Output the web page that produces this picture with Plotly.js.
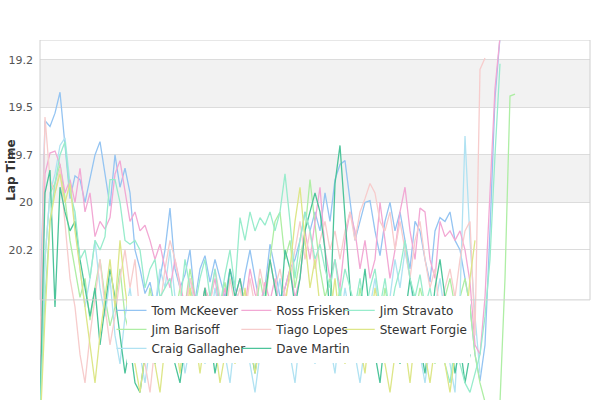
<!DOCTYPE html>
<html>
<head>
<meta charset="utf-8">
<script src="https://cdn.plot.ly/plotly-3.0.1.min.js"></script>
<style>
  html, body { margin: 0; padding: 0; background: #fff; }
  #chart { width: 600px; height: 400px; }
</style>
</head>
<body>
<div id="chart"></div>
<script>
// Lap times per driver (one value per lap)
var tomMcKeever = [20.60, 19.57, 19.60, 19.53, 19.42, 19.70, 19.98, 19.86, 19.88, 20.00,
  19.88, 19.75, 19.68, 19.84, 20.02, 19.75, 19.92, 19.82, 19.95, 20.25,
  20.35, 20.48, 20.42, 20.55, 20.40, 20.25, 20.03, 20.35, 20.45, 20.38,
  20.25, 20.52, 20.35, 20.28, 20.42, 20.30, 20.40, 20.50, 20.35, 20.45,
  20.55, 20.38, 20.25, 20.40, 20.55, 20.45, 20.22, 20.35, 20.50, 20.45,
  20.35, 20.30, 20.20, 20.05, 20.15, 20.05, 20.15, 19.95, 20.10, 19.88,
  19.80, 19.78, 19.98, 20.20, 20.10, 20.00, 19.99, 20.15, 20.28, 20.10,
  20.00, 20.15, 20.05, 20.20, 20.35, 20.10, 20.15, 20.30, 20.42, 20.15,
  20.08, 20.10, 20.05, 20.20, 20.25, 20.40, 20.55, 20.80, 20.94, 20.75,
  20.15, 19.45, 19.13];
var rossFrisken = [20.90, 19.85, 19.74, 19.73, 19.80, 19.95, 19.88, 20.00, 19.82, 20.05,
  19.95, 20.18, 20.10, 20.14, 20.08, 19.85, 19.78, 19.95, 20.10, 20.05,
  20.15, 20.12, 20.20, 20.30, 20.22, 20.35, 20.45, 20.30, 20.42, 20.55,
  20.40, 20.50, 20.60, 20.45, 20.52, 20.40, 20.58, 20.45, 20.62, 20.50,
  20.40, 20.55, 20.35, 20.48, 20.55, 20.42, 20.52, 20.40, 20.60, 20.45,
  20.35, 20.50, 20.40, 20.15, 20.30, 20.10, 19.92, 20.25, 20.40, 20.30,
  20.45, 20.20, 20.05, 20.15, 20.35, 20.20, 20.40, 20.30, 20.00, 20.20,
  20.40, 20.25, 20.05, 19.92, 20.15, 20.30, 20.03, 20.05, 20.30, 20.40,
  20.10, 20.18, 20.15, 20.20, 20.15, 20.25, 20.42, 20.75, 20.80, 20.50,
  19.95, 19.40, 19.13];
var jimStravato = [21.10, 20.50, 20.10, 19.90, 19.75, 19.68, 19.95, 20.05, 20.30, 20.25,
  20.40, 20.20, 20.25, 20.18, 19.88, 19.88, 20.00, 20.20, 20.22, 20.20,
  20.25, 20.45, 20.35, 20.30, 20.50, 20.45, 20.40, 20.60, 20.55, 20.30,
  20.45, 20.55, 20.40, 20.30, 20.50, 20.35, 20.55, 20.38, 20.25, 20.45,
  20.08, 20.20, 20.05, 20.15, 20.08, 20.12, 20.05, 20.15, 20.05, 19.85,
  20.10, 20.40, 20.20, 20.05, 20.15, 20.30, 20.22, 20.35, 20.45, 20.30,
  20.50, 20.35, 20.45, 20.55, 20.40, 20.60, 20.45, 20.35, 20.55, 20.40,
  20.60, 20.45, 20.35, 20.20, 20.40, 20.50, 20.38, 20.55, 20.45, 20.60,
  20.70, 20.85, 20.95, 20.75, 20.85, 20.95, 21.00, 20.90, 20.80, 20.60,
  20.30, 19.75, 19.27];
var jimBarisoff = [21.10, 20.30, 19.95, 19.90, 19.80, 19.98, 20.20, 20.35, 20.50, 20.40,
  20.62, 20.45, 20.30, 20.50, 20.65, 20.55, 20.35, 20.60, 20.70, 20.55,
  20.80, 20.65, 20.45, 20.60, 20.50, 20.70, 20.80, 20.60, 20.45, 20.55,
  20.35, 20.50, 20.65, 20.45, 20.60, 20.75, 20.55, 20.42, 20.60, 20.70,
  20.50, 20.65, 20.80, 20.60, 20.40, 20.55, 20.30, 20.10, 20.05, 20.30,
  20.20, 20.45, 20.30, 20.15, 19.88, 20.10, 20.35, 20.50, 20.40, 20.60,
  20.45, 20.70, 20.55, 20.65, 20.45, 20.60, 20.75, 20.55, 20.65, 20.45,
  20.60, 20.80, 20.65, 20.50, 20.70, 20.60, 20.45, 20.55, 20.70, 20.85,
  20.65, 20.50, 20.40, 20.55, 20.50, 20.40, 20.55, 20.80, 20.95, 21.05,
  21.10, 21.10, 21.05, 20.40, 19.44, 19.43];
var tiagoLopes = [20.80, 19.55, 19.88, 19.95, 19.82, 20.10, 20.40, 20.55, 20.80, 20.95,
  20.70, 20.50, 20.30, 20.55, 20.75, 20.60, 20.40, 20.25, 20.45, 20.30,
  20.60, 20.85, 21.00, 20.75, 20.55, 20.35, 20.20, 20.30, 20.45, 20.60,
  20.40, 20.55, 20.70, 20.45, 20.55, 20.35, 20.50, 20.65, 20.40, 20.55,
  20.45, 20.60, 20.40, 20.55, 20.35, 20.48, 20.30, 20.45, 20.35, 20.50,
  20.40, 20.25, 20.10, 20.30, 20.15, 20.35, 20.20, 20.10, 20.25, 20.15,
  20.30, 20.15, 20.05, 20.20, 20.05, 19.98, 19.90, 19.95, 20.10, 20.15,
  20.05, 20.25, 20.10, 20.25, 20.40, 20.20, 20.10, 20.30, 20.45, 20.35,
  20.60, 20.45, 20.35, 20.50, 20.30, 20.15, 20.10, 20.70, 19.30, 19.24];
var stewartForgie = [21.20, 20.60, 20.10, 19.95, 19.85, 20.00, 19.90, 20.15, 20.35, 20.55,
  20.75, 20.95, 20.70, 20.50, 20.30, 20.55, 20.20, 20.45, 20.65, 20.85,
  21.00, 20.80, 20.60, 20.85, 21.00, 20.75, 20.55, 20.70, 20.90, 20.65,
  20.45, 20.70, 20.90, 20.70, 20.55, 20.75, 20.95, 20.80, 20.60, 20.85,
  20.65, 20.45, 20.70, 20.90, 20.75, 20.60, 20.50, 20.65, 20.80, 20.55,
  20.35, 20.10, 19.92, 20.20, 20.45, 20.30, 20.55, 20.75, 20.60, 20.40,
  20.65, 20.85, 20.70, 20.50, 20.75, 20.90, 20.65, 20.45, 20.60, 20.85,
  21.00, 20.80, 20.60, 20.75, 20.95, 20.70, 20.55, 20.80, 20.95, 20.75,
  20.60, 20.85, 21.00, 20.80, 20.55, 20.70, 20.40, 20.20];
var craigGallagher = [21.00, 20.30, 19.95, 19.85, 19.70, 19.66, 19.90, 20.10, 20.35, 20.55,
  20.40, 20.20, 20.45, 20.60, 20.40, 20.70, 20.85, 20.60, 20.45, 20.65,
  20.80, 20.95, 20.75, 20.55, 20.35, 20.45, 20.25, 20.50, 20.70, 20.90,
  20.75, 20.55, 20.70, 20.85, 20.65, 20.45, 20.60, 20.80, 20.95, 20.70,
  20.50, 20.65, 20.85, 21.00, 20.80, 20.60, 20.75, 20.55, 20.40, 20.60,
  20.80, 20.95, 20.70, 20.50, 20.65, 20.85, 20.70, 20.55, 20.75, 20.90,
  20.65, 20.45, 20.60, 20.80, 20.95, 20.75, 20.55, 20.40, 20.60, 20.75,
  20.50, 20.30, 20.45, 20.25, 20.40, 20.60, 20.80, 20.95, 20.75, 20.55,
  20.40, 20.60, 20.85, 21.00, 20.50, 19.65, 20.20, 20.60, 20.90];
var daveMartin = [21.10, 19.95, 19.83, 20.55, 19.92, 20.05, 20.15, 20.10, 20.30, 20.45,
  20.60, 20.45, 20.75, 20.55, 20.35, 20.50, 20.70, 20.90, 20.75, 20.95,
  21.00, 20.80, 20.60, 20.85, 20.70, 20.50, 20.65, 20.85, 20.95, 20.75,
  20.55, 20.80, 20.60, 20.45, 20.70, 20.90, 20.75, 20.55, 20.35, 20.50,
  20.40, 20.55, 20.75, 20.90, 20.70, 20.50, 20.30, 20.45, 20.60, 20.25,
  20.35, 20.55, 20.40, 20.15, 20.05, 19.95, 20.05, 20.25, 20.60, 19.90,
  19.70, 20.10, 20.45, 20.70, 20.55, 20.35, 20.60, 20.80, 20.95, 20.70,
  20.50, 20.65, 20.85, 20.60, 20.40, 20.55, 20.75, 20.90, 20.70, 20.45,
  20.30, 20.50, 20.70, 20.90, 20.75, 20.95, 20.80];

var tickValues = [19.25, 19.5, 19.75, 20, 20.25];
var tickLabels = ['19.2', '19.5', '19.7', '20', '20.2'];

var font = 'DejaVu Sans, sans-serif';

function lapTrace(name, times, color, legend) {
    return {
        x: times.map(function(t, i) { return i; }),
        y: times,
        mode: 'lines',
        name: name,
        legend: legend,
        line: { color: color, width: 1.3 },
        hoverinfo: 'skip'
    };
}

// legend-only entries of the first legend: they just give the white legend box its size
function spacer(name) {
    return { x: [0], y: [20], mode: 'lines', name: name, legend: 'legend',
             visible: 'legendonly', line: { color: 'rgba(0,0,0,0)' }, hoverinfo: 'skip' };
}
var wide = new Array(79).join('\u00a0');

var data = [
    spacer(wide), spacer('\u00a0'), spacer('\u00a0\u00a0'),
    lapTrace('Tom McKeever', tomMcKeever, '#94c4f2', 'legend2'),
    lapTrace('Jim Barisoff', jimBarisoff, '#aeeea4', 'legend2'),
    lapTrace('Craig Gallagher', craigGallagher, '#b0e2f2', 'legend2'),
    lapTrace('Ross Frisken', rossFrisken, '#f2a8d4', 'legend3'),
    lapTrace('Tiago Lopes', tiagoLopes, '#f7cccc', 'legend3'),
    lapTrace('Dave Martin', daveMartin, '#4cc49a', 'legend3'),
    lapTrace('Jim Stravato', jimStravato, '#98eccc', 'legend4'),
    lapTrace('Stewart Forgie', stewartForgie, '#dde688', 'legend4')
];

function legendAt(x, bg) {
    return {
        x: x, xanchor: 'left',
        y: 0.289, yanchor: 'top',
        orientation: 'v',
        bgcolor: bg,
        borderwidth: 0,
        font: { family: font, size: 12, color: '#333' }
    };
}

var layout = {
    width: 600,
    height: 400,
    margin: { l: 40, r: 10, t: 40, b: 0, pad: 0 },
    paper_bgcolor: '#fff',
    plot_bgcolor: 'rgba(0,0,0,0)',
    font: { family: font, size: 11, color: '#555' },
    showlegend: true,
    xaxis: {
        range: [0, 110],
        showgrid: false, zeroline: false, showline: false,
        showticklabels: false, ticks: ''
    },
    yaxis: {
        range: [21.04, 19.145],
        tickvals: tickValues,
        ticktext: tickLabels,
        ticks: '',
        ticklabelstandoff: 6,
        showgrid: true,
        gridcolor: '#dcdcdc',
        zeroline: false,
        showline: false,
        tickfont: { family: font, size: 11, color: '#555' }
    },
    legend: legendAt(0.158, '#ffffff'),
    legend2: legendAt(0.13, 'rgba(0,0,0,0)'),
    legend3: legendAt(0.357, 'rgba(0,0,0,0)'),
    legend4: legendAt(0.545, 'rgba(0,0,0,0)'),
    shapes: [
        { type: 'rect', xref: 'paper', yref: 'y', x0: 0, x1: 1, y0: 19.25, y1: 19.5,
          fillcolor: '#f2f2f2', line: { width: 0 }, layer: 'below' },
        { type: 'rect', xref: 'paper', yref: 'y', x0: 0, x1: 1, y0: 19.75, y1: 20,
          fillcolor: '#f2f2f2', line: { width: 0 }, layer: 'below' },
        { type: 'rect', xref: 'paper', yref: 'y', x0: 0, x1: 1, y0: 19.145, y1: 20.513,
          fillcolor: 'rgba(0,0,0,0)', line: { color: '#d0d0d0', width: 1 }, layer: 'above' }
    ],
    annotations: [
        { text: '<b>Lap Time</b>', xref: 'paper', yref: 'paper',
          x: -0.053, y: 0.639, textangle: -90, showarrow: false,
          xanchor: 'center', yanchor: 'middle',
          font: { family: font, size: 12, color: '#333' } }
    ]
};

Plotly.newPlot('chart', data, layout, { displayModeBar: false, staticPlot: true });
</script>
</body>
</html>
